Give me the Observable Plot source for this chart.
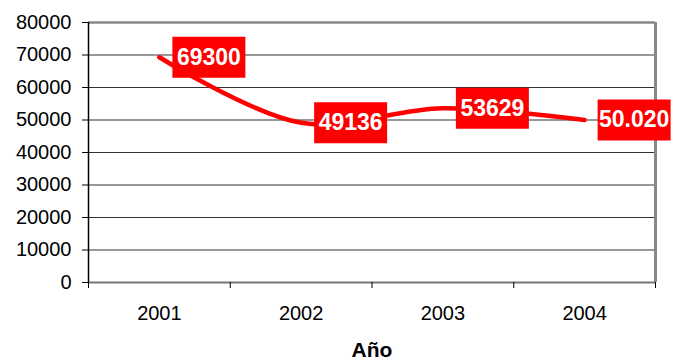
<!DOCTYPE html>
<html>
<head>
<meta charset="utf-8">
<script src="https://cdn.jsdelivr.net/npm/d3@7"></script>
<script src="https://cdn.jsdelivr.net/npm/@observablehq/plot@0.6"></script>
<style>
  body { margin: 0; background: #fff; }
</style>
</head>
<body>
<div id="chart"></div>
<script>
const years = [2001, 2002, 2003, 2004];
const values = [69300, 49136, 53629, 50020];
const valueLabels = ["69300", "49136", "53629", "50.020"];
const yTicks = [0, 10000, 20000, 30000, 40000, 50000, 60000, 70000, 80000];
const xBoundaries = [2000.5, 2001.5, 2002.5, 2003.5, 2004.5];
const xTitle = "Año";

const data = years.map((y, i) => ({year: y, value: values[i], label: valueLabels[i]}));

const boxSymbol = {
  draw(context, size) {
    context.rect(-36.5, -20.5, 73, 41);
  }
};

const chart = Plot.plot({
  width: 673,
  height: 360,
  marginLeft: 88,
  marginRight: 18,
  marginTop: 22,
  marginBottom: 78,
  style: {fontFamily: "'Liberation Sans', Arial, sans-serif", background: "#fff", color: "#000"},
  x: {type: "linear", domain: [xBoundaries[0], xBoundaries[xBoundaries.length - 1]]},
  y: {domain: [0, 80000]},
  marks: [
    Plot.ruleY(yTicks.slice(1, -1), {stroke: "#333", strokeWidth: 1.1}),
    Plot.ruleY([yTicks[yTicks.length - 1]], {stroke: "#888", strokeWidth: 2.5}),
    Plot.ruleY([0], {stroke: "#777", strokeWidth: 2}),
    Plot.ruleX([xBoundaries[xBoundaries.length - 1]], {stroke: "#888", strokeWidth: 3}),
    Plot.ruleX([xBoundaries[0]], {stroke: "#000", strokeWidth: 1.5}),
    Plot.axisY({ticks: yTicks, tickSize: 6, tickPadding: 11, fontSize: 20, label: null,
      tickFormat: d => String(d), stroke: "#000", strokeOpacity: 1}),
    Plot.axisX({ticks: xBoundaries, tickSize: 6, tickFormat: () => "", label: null, stroke: "#000", strokeOpacity: 1}),
    Plot.axisX({ticks: years, tickSize: 0, tickPadding: 23, fontSize: 20, label: null, tickFormat: d => String(d)}),
    Plot.line(data, {x: "year", y: "value", stroke: "#ff0000", strokeWidth: 4.5, curve: "catmull-rom", strokeLinecap: "round"}),
    Plot.dot(data, {x: "year", y: "value", symbol: boxSymbol, fill: "#ff0000", stroke: null, dx: 49.5}),
    Plot.text(data, {x: "year", y: "value", text: "label", dx: 49.5, fill: "#fff", fontSize: 23, fontWeight: "bold"}),
    Plot.text([xTitle], {frameAnchor: "bottom", dy: 74, fontSize: 21, fontWeight: "bold", fill: "#000"})
  ]
});
document.getElementById("chart").appendChild(chart);
</script>
</body>
</html>
